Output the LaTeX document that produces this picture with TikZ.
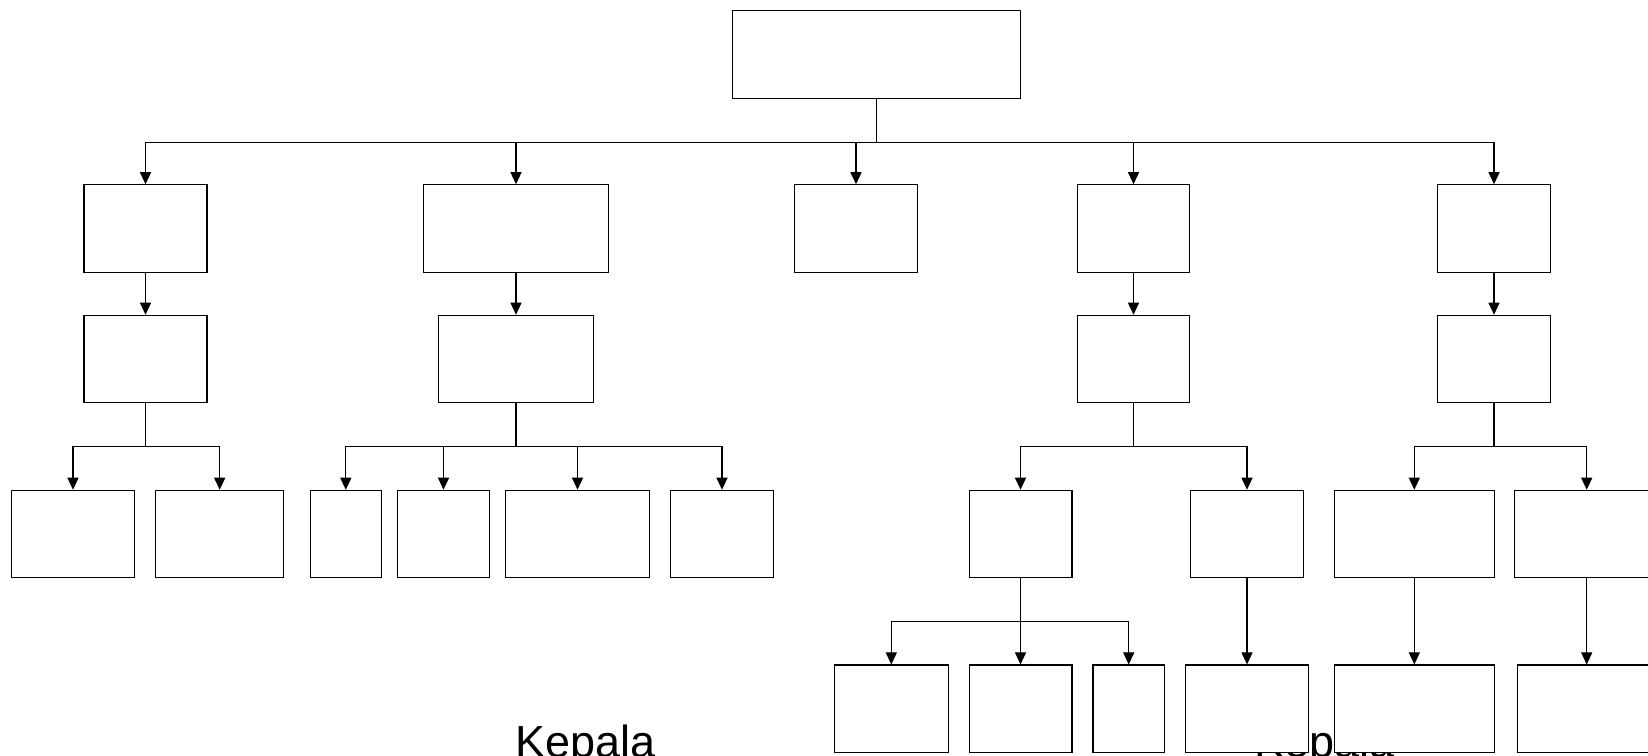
\documentclass[tikz,border=0pt]{standalone}
\usepackage{fontspec}
\setmainfont{Liberation Sans}
\usetikzlibrary{arrows.meta}

\tikzset{
  box/.style={draw, fill=white, line width=0.6pt, minimum width=#1, minimum height=1.75cm, inner sep=0pt},
  arr/.style={line width=0.6pt, -{Triangle[width=0.22cm,length=0.24cm]}},
  lbl/.style={anchor=base west, inner sep=0pt, font=\fontsize{25.6}{30}\selectfont}
}

\begin{document}
\begin{tikzpicture}[x=0.02cm, y=-0.02cm]
	\useasboundingbox (0,0) rectangle (1648,755);

	% labels sit behind the boxes
	\node[lbl] (kepala1) at (515,757) {Kepala};
	\node[lbl] (kepala2) at (1254,757) {Kepala};

	\node[box=5.76cm] (n0) at (876.5,54.5) {};

	\node[box=2.46cm] (a1) at (145.5,228.5) {};
	\node[box=3.7cm]  (b1) at (516,228.5) {};
	\node[box=2.46cm] (c1) at (856,228.5) {};
	\node[box=2.25cm] (d1) at (1133.5,228.5) {};
	\node[box=2.25cm] (e1) at (1494,228.5) {};

	\node[box=2.46cm] (a2) at (145.5,359) {};
	\node[box=3.09cm] (b2) at (516,359) {};
	\node[box=2.25cm] (d2) at (1133.5,359) {};
	\node[box=2.25cm] (e2) at (1494,359) {};

	\node[box=2.46cm] (a3) at (73,534) {};
	\node[box=2.57cm] (a4) at (219.7,534) {};
	\node[box=1.43cm] (b3) at (345.8,534) {};
	\node[box=1.85cm] (b4) at (443.5,534) {};
	\node[box=2.88cm] (b5) at (577.5,534) {};
	\node[box=2.06cm] (b6) at (722,534) {};
	\node[box=2.06cm] (d3) at (1020.5,534) {};
	\node[box=2.27cm] (d4) at (1247,534) {};
	\node[box=3.2cm]  (e3) at (1414.3,534) {};
	\node[box=2.88cm] (e4) at (1586.7,534) {};

	\node[box=2.27cm] (f1) at (891.3,708.7) {};
	\node[box=2.06cm] (f2) at (1020.5,708.7) {};
	\node[box=1.43cm] (f3) at (1128.7,708.7) {};
	\node[box=2.46cm] (f4) at (1247,708.7) {};
	\node[box=3.2cm]  (f5) at (1414.3,708.7) {};
	\node[box=2.78cm] (f6) at (1586.7,708.7) {};

	\foreach \c in {a1,b1,c1,d1,e1}{
	   \draw[arr] (n0.south) -- ++(0,43.5) -| (\c.north);
	}
	\foreach \p in {a,b,d,e}{
	   \draw[arr] (\p1.south) -- (\p2.north);
	}
	\foreach \c in {a3,a4}{
	   \draw[arr] (a2.south) -- ++(0,43.5) -| (\c.north);
	}
	\foreach \c in {b3,b4,b5,b6}{
	   \draw[arr] (b2.south) -- ++(0,43.5) -| (\c.north);
	}
	\foreach \c in {d3,d4}{
	   \draw[arr] (d2.south) -- ++(0,43.5) -| (\c.north);
	}
	\foreach \c in {e3,e4}{
	   \draw[arr] (e2.south) -- ++(0,43.5) -| (\c.north);
	}
	\foreach \c in {f1,f2,f3}{
	   \draw[arr] (d3.south) -- ++(0,43.5) -| (\c.north);
	}
	\draw[arr] (d4.south) -- (f4.north);
	\draw[arr] (e3.south) -- (f5.north);
	\draw[arr] (e4.south) -- (f6.north);
\end{tikzpicture}
\end{document}
